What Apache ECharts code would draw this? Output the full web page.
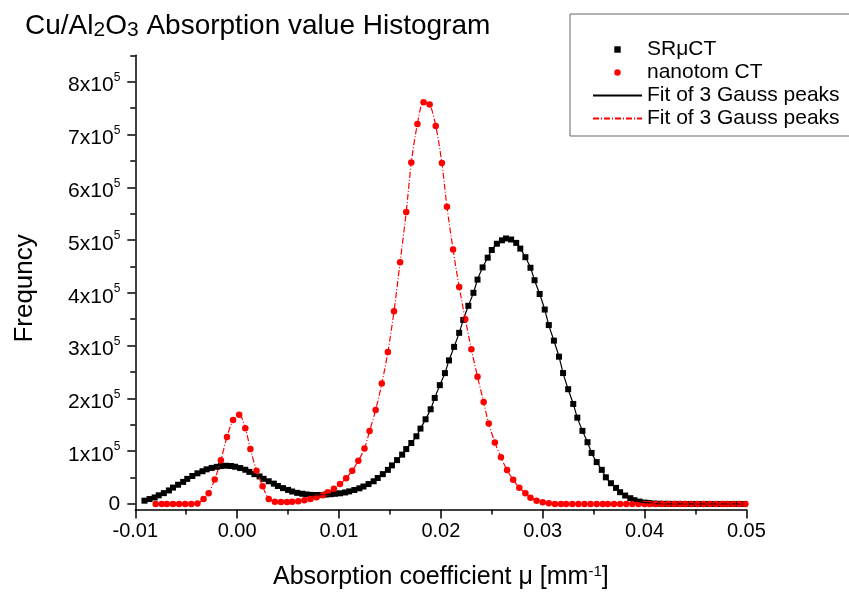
<!DOCTYPE html>
<html><head><meta charset="utf-8">
<script src="https://cdn.jsdelivr.net/npm/echarts@6/dist/echarts.min.js"></script>
<style>html,body{margin:0;padding:0;background:#fff}#c{width:849px;height:595px}</style>
</head><body><div id="c"></div>
<script>
// SRμCT histogram (black squares)
const srX = [-0.0091,-0.0086,-0.0081,-0.0077,-0.0072,-0.0067,-0.0063,-0.0058,-0.0053,-0.0049,
-0.0044,-0.0039,-0.0034,-0.0030,-0.0025,-0.0020,-0.0016,-0.0011,-0.0006,-0.0002,
0.0003,0.0008,0.0012,0.0017,0.0022,0.0026,0.0031,0.0036,0.0040,0.0045,
0.0050,0.0054,0.0059,0.0064,0.0068,0.0073,0.0078,0.0082,0.0087,0.0092,
0.0096,0.0101,0.0106,0.0110,0.0115,0.0120,0.0124,0.0129,0.0134,0.0138,
0.0143,0.0148,0.0152,0.0157,0.0162,0.0166,0.0171,0.0176,0.0180,0.0185,
0.0190,0.0194,0.0199,0.0204,0.0208,0.0213,0.0218,0.0222,0.0227,0.0232,
0.0236,0.0241,0.0246,0.0250,0.0255,0.0260,0.0264,0.0269,0.0274,0.0278,
0.0283,0.0288,0.0292,0.0297,0.0302,0.0306,0.0311,0.0316,0.0320,0.0325,
0.0330,0.0334,0.0339,0.0344,0.0348,0.0353,0.0358,0.0362,0.0367,0.0372,
0.0376,0.0381,0.0386,0.0390,0.0395,0.0400,0.0404,0.0409,0.0414,0.0419,
0.0423,0.0428,0.0433,0.0437,0.0442,0.0447,0.0451,0.0456,0.0461,0.0465,
0.0470,0.0475,0.0479,0.0484,0.0489,0.0493,0.0498];
const srY = [6200,9300,12300,16400,20500,25600,31000,36400,41800,47500,
53000,58000,62000,65600,68300,70300,71800,72400,71900,70500,
68000,64800,60800,56500,52200,47600,43000,38500,34000,30000,
26600,23600,21000,19300,18000,17200,17000,17100,17800,18500,
19300,20200,21800,23800,26500,29600,33100,37700,43000,49200,
56500,64600,73100,83100,93500,104000,115500,128200,142800,160400,
179400,200900,225100,247900,272000,297600,324200,348600,375400,400000,
425000,448200,466600,481100,493000,499500,503000,501000,494600,483800,
467500,447500,423900,397800,368300,338900,309400,279000,248000,217400,
189500,163500,138500,117000,96700,79300,64600,50500,39300,30400,
22300,16000,10900,7200,4500,2600,1900,800,500,300,
200,100,100,0,0,0,0,0,0,0,
0,0,0,0,0,0,0];
// nanotom CT histogram (red circles)
const ntX = [-0.0080,-0.0074,-0.0069,-0.0063,-0.0057,-0.0051,-0.0045,-0.0039,-0.0033,-0.0028,
-0.0022,-0.0016,-0.0010,-0.0004,0.0002,0.0008,0.0013,0.0019,0.0025,0.0031,
0.0037,0.0043,0.0049,0.0054,0.0060,0.0066,0.0072,0.0078,0.0084,0.0089,
0.0095,0.0101,0.0107,0.0113,0.0119,0.0125,0.0130,0.0136,0.0142,0.0148,
0.0154,0.0160,0.0166,0.0171,0.0177,0.0183,0.0189,0.0195,0.0201,0.0206,
0.0212,0.0218,0.0224,0.0230,0.0236,0.0242,0.0247,0.0253,0.0259,0.0265,
0.0271,0.0277,0.0283,0.0288,0.0294,0.0300,0.0306,0.0312,0.0318,0.0323,
0.0329,0.0335,0.0341,0.0347,0.0353,0.0359,0.0364,0.0370,0.0376,0.0382,
0.0388,0.0394,0.0400,0.0405,0.0411,0.0417,0.0423,0.0429,0.0435,0.0440,
0.0446,0.0452,0.0458,0.0464,0.0470,0.0476,0.0481,0.0487,0.0493,0.0499];
const ntY = [0,0,0,0,0,0,0,1000,9500,20200,
46300,83000,127000,159000,169000,143600,104000,63000,33500,9500,
4300,3800,3800,4000,5000,7000,9500,12500,16500,22000,
29000,37800,48600,63000,81800,105000,138000,178000,228000,288000,
365000,458000,553000,647000,720000,761000,757000,716000,646000,563000,
482000,411000,350000,293000,241000,193000,152500,116600,88300,64300,
45900,30800,20200,11900,6200,3200,1300,0,0,0,
0,0,0,0,0,0,0,0,0,0,
0,0,0,0,0,0,0,0,0,0,
0,0,0,0,0,0,0,0,0,0];
const yTicks = [0,100000,200000,300000,400000,500000,600000,700000,800000];
const yMinorTicks = [50000,150000,250000,350000,450000,550000,650000,750000,850000];
const legendNames = ['SRμCT','nanotom CT','Fit of 3 Gauss peaks','Fit of 3 Gauss peaks'];

const FONT = "'Liberation Sans', Arial, sans-serif";
function pairs(xs, ys){ return xs.map((x,i)=>[x, ys[i]]); }
const seriesIds = ['sr','nt','fitSR','fitNT'];

const chart = echarts.init(document.getElementById('c'), null, {renderer:'canvas'});
chart.setOption({
  animation:false,
  backgroundColor:'#fff',
  title:{
    text:'{a|Cu/Al}{s|2}{a|O}{s|3}{a| Absorption value Histogram}',
    left:25, top:11, padding:0,
    textStyle:{ fontWeight:'normal', rich:{
      a:{fontFamily:FONT,fontSize:28,fontWeight:'normal',color:'#000',lineHeight:30},
      s:{fontFamily:FONT,fontSize:21,fontWeight:'normal',color:'#000',padding:[8,0,0,0]}
    }}
  },
  legend:{
    orient:'vertical', left:570, top:14,
    padding:[25,40,7,22], itemGap:2, itemWidth:49, itemHeight:8,
    borderColor:'#666', borderWidth:1, selectedMode:false,
    textStyle:{fontFamily:FONT,fontSize:21,color:'#000',lineHeight:20},
    formatter:function(n){ return legendNames[seriesIds.indexOf(n)]; },
    data:[
      {name:'sr'},
      {name:'nt'},
      {name:'fitSR', itemStyle:{color:'rgba(0,0,0,0)',borderWidth:0}},
      {name:'fitNT', itemStyle:{color:'rgba(0,0,0,0)',borderWidth:0}}
    ]
  },
  grid:{left:135.3, right:102.6, top:55.3, bottom:84.3, containLabel:false},
  xAxis:{
    type:'value', min:-0.01, max:0.05, interval:0.01,
    axisLine:{show:true,onZero:false,lineStyle:{color:'#000',width:1.5}},
    axisTick:{show:true,inside:false,length:9,lineStyle:{color:'#000',width:1.5}},
    minorTick:{show:true,splitNumber:2,length:5,lineStyle:{color:'#000',width:1.5}},
    splitLine:{show:false}, minorSplitLine:{show:false},
    axisLabel:{formatter:function(v){return v.toFixed(2);},fontFamily:FONT,fontSize:20,color:'#000',margin:12},
    name:'{a|Absorption coefficient μ [mm}{s|-1}{a|]}',
    nameLocation:'middle', nameGap:53,
    nameTextStyle:{rich:{
      a:{fontFamily:FONT,fontSize:25,color:'#000',lineHeight:30},
      s:{fontFamily:FONT,fontSize:15,color:'#000',padding:[0,0,12,0]}
    }}
  },
  yAxis:[{
    type:'value', min:-10500, max:850000, position:'left',
    axisLine:{show:true,onZero:false,lineStyle:{color:'#000',width:1.5}},
    axisTick:{show:true,inside:false,length:8,customValues:yTicks,lineStyle:{color:'#000',width:1.5}},
    splitLine:{show:false},
    axisLabel:{
      customValues:yTicks, margin:15,
      formatter:function(v){ return v===0 ? '{z|0}' : '{n|'+Math.round(v/100000)+'x10}{s|5}'; },
      rich:{
        n:{fontFamily:FONT,fontSize:21,color:'#000',lineHeight:28,padding:[8,0,0,0]},
        s:{fontFamily:FONT,fontSize:12,color:'#000',padding:[0,0,8,0]},
        z:{fontFamily:FONT,fontSize:21,color:'#000'}
      }
    },
    name:'Frequncy', nameLocation:'middle', nameGap:97, nameRotate:90,
    nameTextStyle:{fontFamily:FONT,fontSize:26,color:'#000',padding:[0,12,0,0]}
  },{
    type:'value', min:-10500, max:850000, position:'left',
    axisLine:{show:false,onZero:false}, axisLabel:{show:false}, splitLine:{show:false},
    axisTick:{show:true,inside:false,length:5,customValues:yMinorTicks,lineStyle:{color:'#000',width:1.5}}
  }],
  series:[
    {name:'sr', type:'line', data:pairs(srX,srY), symbol:'rect', symbolSize:6, showSymbol:true, showAllSymbol:true,
     lineStyle:{opacity:0,width:0}, itemStyle:{color:'#000'}, z:2},
    {name:'nt', type:'line', data:pairs(ntX,ntY), symbol:'circle', symbolSize:6.5, showSymbol:true, showAllSymbol:true,
     lineStyle:{opacity:0,width:0}, itemStyle:{color:'#ff0000'}, z:3},
    {name:'fitSR', type:'line', data:pairs(srX,srY), symbol:'none', smooth:0.3,
     lineStyle:{color:'#000',width:1.2}, itemStyle:{color:'#000'}, z:4},
    {name:'fitNT', type:'line', data:pairs(ntX,ntY), symbol:'none', smooth:0.3,
     lineStyle:{color:'#ff0000',width:1.2,type:[6,2,1,2]}, itemStyle:{color:'#ff0000'}, z:5}
  ]
});
</script></body></html>
